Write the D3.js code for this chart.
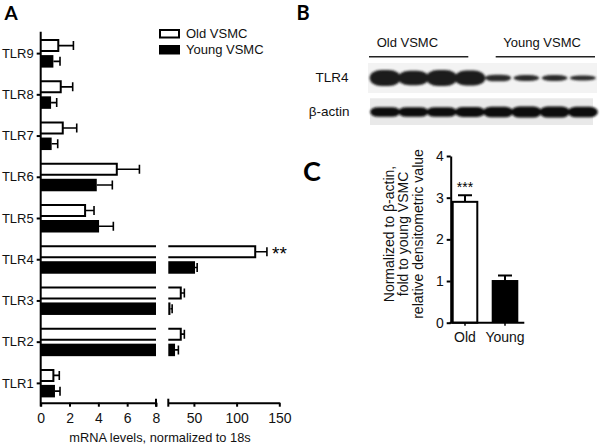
<!DOCTYPE html>
<html><head><meta charset="utf-8">
<script src="https://cdn.jsdelivr.net/npm/d3@7"></script>
<style>body{margin:0;background:#fff}svg{display:block}text{font-family:"Liberation Sans",Arial,sans-serif;fill:#111}</style>
</head><body>
<script>
// ---------- data ----------
const categories = ["TLR1","TLR2","TLR3","TLR4","TLR5","TLR6","TLR7","TLR8","TLR9"];
const oldMean   = [0.88, 34.6, 34.6, 121.8, 3.08, 5.28, 1.53, 1.39, 1.22];
const oldSem    = [0.41, 4.2, 4.2, 13.7, 0.62, 1.57, 0.97, 0.83, 1.05];
const youngMean = [0.99, 27.9, 22.5, 51.3, 4.05, 3.89, 0.76, 0.72, 0.88];
const youngSem  = [0.35, 3.9, 2.0, 2.5, 0.99, 1.08, 0.42, 0.39, 0.46];
const xTicksLow = [0, 2, 4, 6, 8];
const xTicksHigh = [50, 100, 150];
const seriesNames = ["Old VSMC", "Young VSMC"];

const lanes = [1,2,3,4,5,6,7,8];
const tlr4Band  = [1.0, 0.92, 1.0, 0.95, 0.42, 0.36, 0.36, 0.32];
const actinBand = [0.8, 0.8, 0.8, 0.82, 0.86, 0.92, 0.92, 0.86];

const cCats = ["Old", "Young"];
const cMean = [2.9, 1.0];
const cSem  = [0.16, 0.13];
const cTicks = [0, 1, 2, 3, 4];

// ---------- svg ----------
const svg = d3.select("body").append("svg").attr("width", 600).attr("height", 446);
const defs = svg.append("defs");
defs.append("filter").attr("id","blur").attr("x","-20%").attr("y","-50%").attr("width","140%").attr("height","200%")
  .append("feGaussianBlur").attr("stdDeviation", 1.3);

function panelLetter(t, x, y, size) {
  svg.append("text").attr("x", x).attr("y", y).text(t)
    .style("font-family", "Lato, 'Open Sans', sans-serif").style("font-weight", "bold")
    .style("font-size", size + "px").style("fill", "#000");
}
panelLetter("A", 4.5, 20, 19);
panelLetter("B", 296.5, 19.5, 20);
panelLetter("C", 303, 180.5, 27);

// ---------- Panel A ----------
const gA = svg.append("g");
const yA = d3.scaleBand().domain(categories).range([404, 33]);
const cy = d => yA(d) + yA.bandwidth() / 2;
const x1 = d3.scaleLinear().domain([0, 8]).range([40.7, 156]);
const x2 = d3.scaleLinear().domain([20, 150]).range([168.3, 279.3]);
const xpos = v => v <= 8 ? x1(v) : x2(v);
const segs = v => v <= 8 ? [[x1(0), x1(v), false]] : [[x1(0), x1(8), true], [x2(20), x2(v), false]];

categories.forEach((cat, i) => {
  const c = cy(cat);
  const oT = c - 13.5, oB = c - 2.5;
  segs(oldMean[i]).forEach(([s0, s1, open]) => {
    gA.append("rect").attr("x", s0).attr("y", oT).attr("width", s1 - s0).attr("height", oB - oT).attr("fill", "#fff");
    const p = open ? `M${s0},${oT}H${s1}M${s0},${oB}H${s1}` : `M${s0},${oT}H${s1}V${oB}H${s0}`;
    gA.append("path").attr("d", p).attr("fill", "none").attr("stroke", "#000").attr("stroke-width", 2);
  });
  const yT = c + 1.5, yB = c + 14;
  segs(youngMean[i]).forEach(([s0, s1]) => {
    gA.append("rect").attr("x", s0).attr("y", yT).attr("width", s1 - s0).attr("height", yB - yT).attr("fill", "#000");
  });
  [[oldMean[i], oldSem[i], (oT + oB) / 2], [youngMean[i], youngSem[i], (yT + yB) / 2]].forEach(([m, s, yy]) => {
    const a = xpos(m), b = xpos(m + s);
    gA.append("path").attr("d", `M${a},${yy}H${b}M${b},${yy - 4.5}V${yy + 4.5}`)
      .attr("stroke", "#000").attr("stroke-width", 1.6).attr("fill", "none");
  });
});

gA.append("text").attr("x", 272).attr("y", 260).text("**").style("font-size", "19px").style("fill", "#000");

const ay = gA.append("g").attr("transform", "translate(40.7,0)").call(d3.axisLeft(yA).tickSize(4).tickPadding(3));
ay.select(".domain").remove();
ay.selectAll("line").attr("stroke", "#000").attr("stroke-width", 2);
ay.selectAll("text").style("font-size", "13px").style("font-family", "'Liberation Sans',Arial,sans-serif").attr("fill", "#111");
gA.append("path").attr("d", "M40.7,31.7V406.5").attr("stroke", "#000").attr("stroke-width", 2);

function styleAxis(g) {
  g.select(".domain").attr("stroke", "#000").attr("stroke-width", 2);
  g.selectAll("line").attr("stroke", "#000").attr("stroke-width", 2);
  g.selectAll("text").style("font-size", "14px").style("font-family", "'Liberation Sans',Arial,sans-serif").attr("fill", "#111");
}
const ax1 = gA.append("g").attr("transform", "translate(0,402.7)")
  .call(d3.axisBottom(x1).tickValues(xTicksLow).tickSize(4).tickSizeOuter(0).tickPadding(6));
styleAxis(ax1);
const ax2 = gA.append("g").attr("transform", "translate(0,402.7)")
  .call(d3.axisBottom(x2).tickValues(xTicksHigh).tickSize(4).tickSizeOuter(0).tickPadding(6));
styleAxis(ax2);
[x1(8), x2(20)].forEach(x => gA.append("path").attr("d", `M${x},398.7V406.7`).attr("stroke", "#000").attr("stroke-width", 2));

gA.append("text").attr("x", 160).attr("y", 441.5).attr("text-anchor", "middle")
  .style("font-size", "12.8px").text("mRNA levels, normalized to 18s");

const lg = gA.append("g");
lg.append("rect").attr("x", 160).attr("y", 30).attr("width", 19).attr("height", 7.5).attr("fill", "#fff").attr("stroke", "#000").attr("stroke-width", 2);
lg.append("rect").attr("x", 159).attr("y", 45).attr("width", 21).attr("height", 9.5).attr("fill", "#000");
lg.append("text").attr("x", 186).attr("y", 38.3).style("font-size", "13px").text(seriesNames[0]);
lg.append("text").attr("x", 186).attr("y", 54).style("font-size", "13px").text(seriesNames[1]);

// ---------- Panel B (blot) ----------
const gB = svg.append("g");
const xl = d3.scaleBand().domain(lanes).range([371, 597]).padding(0);
gB.append("text").attr("x", 376.7).attr("y", 46.7).style("font-size", "13px").text("Old VSMC");
gB.append("text").attr("x", 503.3).attr("y", 46.7).style("font-size", "13px").text("Young VSMC");
gB.append("path").attr("d", "M369,56.7H468.3M495.7,56.7H595").attr("stroke", "#222").attr("stroke-width", 1.5);
gB.append("text").attr("x", 348.5).attr("y", 81.7).attr("text-anchor", "end").style("font-size", "13.5px").text("TLR4");
gB.append("text").attr("x", 349.5).attr("y", 115.5).attr("text-anchor", "end").style("font-size", "13.5px").text("β-actin");

gB.append("rect").attr("x", 368).attr("y", 63).attr("width", 229).attr("height", 30).attr("fill", "#f3f3f3");
gB.append("rect").attr("x", 370).attr("y", 98.3).attr("width", 223).attr("height", 26.7).attr("fill", "#e9e9e9");

const hT = d3.scaleLinear().domain([0, 1]).range([0, 16]);
const hA = d3.scaleLinear().domain([0, 1]).range([0, 12]);
const bandG = gB.append("g").attr("filter", "url(#blur)");
lanes.forEach((l, i) => {
  const cx = xl(l) + xl.bandwidth() / 2;
  const w = tlr4Band[i] > 0.6 ? 31 : 26;
  const h = hT(tlr4Band[i]);
  bandG.append("rect").attr("x", cx - w / 2).attr("y", 78 - h / 2).attr("width", w).attr("height", h)
    .attr("rx", w / 2.6).attr("ry", h / 2).attr("fill", tlr4Band[i] > 0.6 ? "#1c1c1c" : "#2a2a2a");
  const ha = hA(actinBand[i]);
  bandG.append("rect").attr("x", cx - 15).attr("y", 112 - ha / 2).attr("width", 30).attr("height", ha)
    .attr("rx", 8).attr("ry", ha / 2).attr("fill", "#0d0d0d");
});

// ---------- Panel C ----------
const gC = svg.append("g");
const yC = d3.scaleLinear().domain([0, 4]).range([322.7, 156]);
const xC = d3.scaleBand().domain(cCats).range([451.7, 518.3]).paddingInner(0.335).paddingOuter(0);

cCats.forEach((k, i) => {
  const x = xC(k), w = xC.bandwidth(), top = yC(cMean[i]);
  const cx = x + w / 2;
  gC.append("path").attr("d", `M${cx},${top}V${yC(cMean[i] + cSem[i])}M${cx - 7},${yC(cMean[i] + cSem[i])}H${cx + 7}`)
    .attr("stroke", "#000").attr("stroke-width", 2);
  if (i === 0) {
    gC.append("rect").attr("x", x + 1).attr("y", top).attr("width", w - 2).attr("height", yC(0) - top)
      .attr("fill", "#fff").attr("stroke", "#000").attr("stroke-width", 2);
  } else {
    gC.append("rect").attr("x", x).attr("y", top - 1).attr("width", w).attr("height", yC(0) - top + 1).attr("fill", "#000");
  }
});
gC.append("text").attr("x", 465).attr("y", 192).attr("text-anchor", "middle").style("font-size", "14px").style("fill", "#000").text("***");

const ayC = gC.append("g").attr("transform", "translate(450.7,0)")
  .call(d3.axisLeft(yC).tickValues(cTicks).tickFormat(d3.format("d")).tickSize(4).tickSizeOuter(0).tickPadding(3));
ayC.select(".domain").attr("stroke", "#000").attr("stroke-width", 2);
ayC.selectAll("line").attr("stroke", "#000").attr("stroke-width", 2);
ayC.selectAll("text").style("font-size", "14px").style("font-family", "'Liberation Sans',Arial,sans-serif").attr("fill", "#111");

const axC = gC.append("g").attr("transform", "translate(0,322.7)")
  .call(d3.axisBottom(xC).tickSize(3).tickSizeOuter(0).tickPadding(6));
axC.select(".domain").attr("d", "M449.7,0H524.3").attr("stroke", "#000").attr("stroke-width", 2);
axC.selectAll("line").attr("stroke", "#000").attr("stroke-width", 1.5);
axC.selectAll("text").style("font-size", "14px").style("font-family", "'Liberation Sans',Arial,sans-serif").attr("fill", "#111");

const titleLines = ["Normalized to β-actin,", "fold to young VSMC", "relative densitometric value"];
titleLines.forEach((t, i) => {
  gC.append("text").attr("transform", `translate(${393.5 + i * 14.5},234) rotate(-90)`)
    .attr("text-anchor", "middle").style("font-size", "14px").text(t);
});
</script>
</body></html>
